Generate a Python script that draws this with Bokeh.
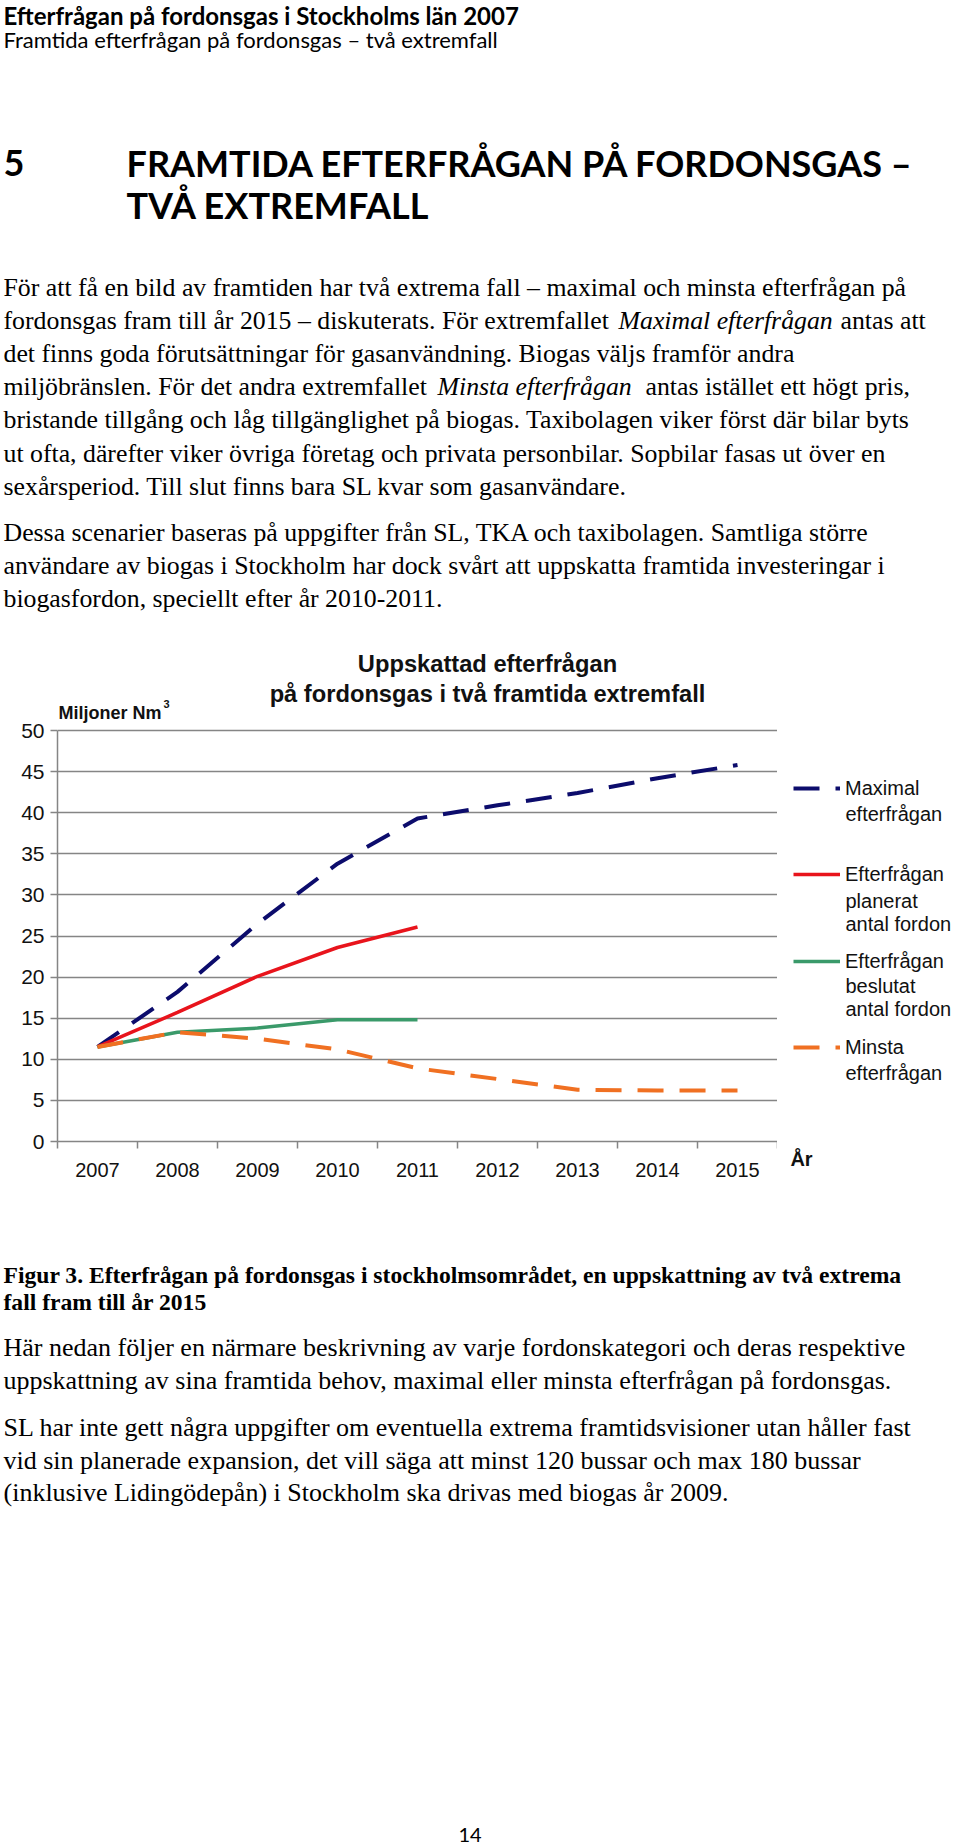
from bokeh.plotting import figure
from bokeh.layouts import column, row
from bokeh.models import Legend, LegendItem, FixedTicker, Range1d
from bokeh.core.properties import value
from bokeh.embed import file_html
from bokeh.resources import INLINE

# ---------------- data ----------------
years = [2007, 2008, 2009, 2010, 2011, 2012, 2013, 2014, 2015]
years_short = [2007, 2008, 2009, 2010, 2011]
maximal = [11.5, 18.2, 26.5, 33.8, 39.3, 40.9, 42.4, 44.2, 45.8]
planerat = [11.5, 15.7, 20.1, 23.6, 26.1]
beslutat = [11.5, 13.3, 13.8, 14.8, 14.8]
minsta = [11.5, 13.3, 12.5, 11.2, 8.9, 7.6, 6.3, 6.2, 6.2]
y_ticks = [0, 5, 10, 15, 20, 25, 30, 35, 40, 45, 50]

series_first_lines = ["Maximal", "Efterfrågan", "Efterfrågan", "Minsta"]
series_more_lines = [["efterfrågan"], ["planerat", "antal fordon"],
                     ["beslutat", "antal fordon"], ["efterfrågan"]]

chart_title = ["Uppskattad efterfrågan", "på fordonsgas i två framtida extremfall"]
y_unit = "Miljoner Nm"
y_unit_sup = "3"
x_unit = "År"

header = ["Efterfrågan på fordonsgas i Stockholms län 2007",
          "Framtida efterfrågan på fordonsgas – två extremfall"]
heading_num = "5"
heading = ["FRAMTIDA EFTERFRÅGAN PÅ FORDONSGAS –", "TVÅ EXTREMFALL"]

para1 = [
    [("För att få en bild av framtiden har två extrema fall – maximal och minsta efterfrågan på", "normal")],
    [("fordonsgas fram till år 2015 – diskuterats. För extremfallet", "normal"),
     ("Maximal efterfrågan", "italic"), ("antas att", "normal")],
    [("det finns goda förutsättningar för gasanvändning. Biogas väljs framför andra", "normal")],
    [("miljöbränslen. För det andra extremfallet", "normal"),
     ("Minsta efterfrågan", "italic"), ("antas istället ett högt pris,", "normal")],
    [("bristande tillgång och låg tillgänglighet på biogas. Taxibolagen viker först där bilar byts", "normal")],
    [("ut ofta, därefter viker övriga företag och privata personbilar. Sopbilar fasas ut över en", "normal")],
    [("sexårsperiod. Till slut finns bara SL kvar som gasanvändare.", "normal")],
]
para2 = ["Dessa scenarier baseras på uppgifter från SL, TKA och taxibolagen. Samtliga större",
         "användare av biogas i Stockholm har dock svårt att uppskatta framtida investeringar i",
         "biogasfordon, speciellt efter år 2010-2011."]
caption = ["Figur 3. Efterfrågan på fordonsgas i stockholmsområdet, en uppskattning av två extrema",
           "fall fram till år 2015"]
para3 = ["Här nedan följer en närmare beskrivning av varje fordonskategori och deras respektive",
         "uppskattning av sina framtida behov, maximal eller minsta efterfrågan på fordonsgas."]
para4 = ["SL har inte gett några uppgifter om eventuella extrema framtidsvisioner utan håller fast",
         "vid sin planerade expansion, det vill säga att minst 120 bussar och max 180 bussar",
         "(inklusive Lidingödepån) i Stockholm ska drivas med biogas år 2009."]
page_no = "14"

# ---------------- styles / layout ----------------
NAVY = "#0c0c6c"
RED = "#e8141c"
GREEN = "#3a9a6a"
ORANGE = "#f07022"
GRID = "#858585"
INK = "#111111"
SANS = "Liberation Sans"
SERIF = "Liberation Serif"
GILL = "Lato"
DASH = "26 16"
NAN = float("nan")

PAGE_W, PAGE_H = 960, 1848
TOP_H = 640          # page band above the chart
CHART_BOTTOM = 1200  # page y where the chart band ends
FL, FR, FB, FT = 57, 777, 1141, 730   # chart frame (page px): left, right, y of 0, y of 50


def text_fig(x0, y0, w, h):
    f = figure(width=w, height=h, x_range=Range1d(x0, x0 + w), y_range=Range1d(y0 + h, y0),
               min_border=0, x_axis_location=None, y_axis_location=None,
               output_backend="svg", toolbar_location=None)
    f.grid.grid_line_color = None
    f.outline_line_color = None
    return f


def put(f, X, Y, text, size, font=SERIF, style="normal", align="left", color="black", rn=None):
    kw = dict(x_range_name=rn, y_range_name=rn) if rn else {}
    f.text(x=[X], y=[Y], text=[text], text_font=value(font), text_font_size=value(f"{size}px"),
           text_font_style=value(style), text_align=value(align),
           text_baseline=value("middle"), text_color=color, **kw)


# ---------- top text band ----------
top = text_fig(0, 0, PAGE_W, TOP_H)
put(top, 3, 15, header[0], 24, font=GILL, style="bold")
put(top, 3, 39, header[1], 22, font=GILL)
put(top, 3, 162, heading_num, 36, font=GILL, style="bold")
put(top, 126, 162, heading[0], 36, font=GILL, style="bold")
put(top, 126, 204, heading[1], 36, font=GILL, style="bold")

seg_x = {1: [3, 618, 840], 3: [3, 437, 645]}
for i, line in enumerate(para1):
    yy = 287 + 33.1 * i
    for (t, st), xx in zip(line, seg_x.get(i, [3])):
        put(top, xx, yy, t, 25.8, style=st)
for i, t in enumerate(para2):
    put(top, 3, 532 + 33 * i, t, 25.8)

# ---------- chart ----------
chart_h = CHART_BOTTOM - TOP_H
y_top = 50 * (FB - TOP_H) / (FB - FT)
p = figure(width=FR, height=chart_h, x_range=Range1d(2006.5, 2015.5), y_range=Range1d(0, y_top),
           min_border_left=FL, min_border_right=0, min_border_top=0,
           min_border_bottom=CHART_BOTTOM - FB, output_backend="svg", toolbar_location=None)
p.outline_line_color = None
p.extra_x_ranges = {"px": Range1d(FL, FR)}
p.extra_y_ranges = {"px": Range1d(FB, TOP_H)}

p.yaxis.ticker = FixedTicker(ticks=y_ticks)
p.yaxis.bounds = (0, 50)
p.yaxis.major_tick_out = 7
p.yaxis.major_tick_in = 0
p.yaxis.minor_tick_line_color = None
p.yaxis.axis_line_color = GRID
p.yaxis.axis_line_width = 1.5
p.yaxis.major_tick_line_color = GRID
p.yaxis.major_tick_line_width = 1.5
p.yaxis.major_label_text_font = SANS
p.yaxis.major_label_text_font_size = "21px"
p.yaxis.major_label_text_color = INK
p.yaxis.major_label_standoff = 6

p.xaxis.ticker = FixedTicker(ticks=years, minor_ticks=[y - 0.5 for y in years] + [years[-1] + 0.5])
p.xaxis.major_label_overrides = {y: str(y) for y in years}
p.xaxis.major_tick_line_color = None
p.xaxis.major_tick_out = 7
p.xaxis.major_tick_in = 0
p.xaxis.minor_tick_out = 7
p.xaxis.minor_tick_in = 0
p.xaxis.minor_tick_line_color = GRID
p.xaxis.minor_tick_line_width = 1.5
p.xaxis.axis_line_color = GRID
p.xaxis.axis_line_width = 1.5
p.xaxis.major_label_text_font = SANS
p.xaxis.major_label_text_font_size = "20px"
p.xaxis.major_label_text_color = INK
p.xaxis.major_label_standoff = 14

p.xgrid.grid_line_color = None
p.ygrid.ticker = FixedTicker(ticks=y_ticks)
p.ygrid.grid_line_color = GRID
p.ygrid.grid_line_width = 1.5

p.line(years, maximal, line_color=NAVY, line_width=4, line_dash=DASH)
p.line(years_short, planerat, line_color=RED, line_width=3.5)
p.line(years_short, beslutat, line_color=GREEN, line_width=3.5)
p.line(years, minsta, line_color=ORANGE, line_width=4, line_dash=DASH)

put(p, 487, 663, chart_title[0], 23.7, font=SANS, style="bold", align="center", color=INK, rn="px")
put(p, 487, 693, chart_title[1], 23.7, font=SANS, style="bold", align="center", color=INK, rn="px")
put(p, 58, 712, y_unit, 18, font=SANS, style="bold", color=INK, rn="px")
put(p, 163, 703, y_unit_sup, 11, font=SANS, style="bold", color=INK, rn="px")

# ---------- legend band (right of the chart; frame aligned with the chart's) ----------
leg = figure(width=PAGE_W - FR, height=chart_h, x_range=Range1d(FR, PAGE_W), y_range=Range1d(FB, TOP_H),
             min_border_left=0, min_border_right=0, min_border_top=0,
             min_border_bottom=CHART_BOTTOM - FB, y_axis_location=None,
             output_backend="svg", toolbar_location=None)
leg.grid.grid_line_color = None
leg.outline_line_color = None
# the "År" unit sits under the axis, as the only label of an otherwise hidden axis
leg.xaxis.ticker = FixedTicker(ticks=[801])
leg.xaxis.major_label_overrides = {801: x_unit}
leg.xaxis.axis_line_color = None
leg.xaxis.major_tick_line_color = None
leg.xaxis.minor_tick_line_color = None
leg.xaxis.major_tick_out = 0
leg.xaxis.major_tick_in = 0
leg.xaxis.major_label_standoff = 6
leg.xaxis.major_label_text_font = SANS
leg.xaxis.major_label_text_font_style = "bold"
leg.xaxis.major_label_text_font_size = "20px"
leg.xaxis.major_label_text_color = INK

proxies = [
    leg.line(x=[NAN, NAN], y=[NAN, NAN], line_color=NAVY, line_width=4, line_dash=DASH),
    leg.line(x=[NAN, NAN], y=[NAN, NAN], line_color=RED, line_width=3.5),
    leg.line(x=[NAN, NAN], y=[NAN, NAN], line_color=GREEN, line_width=3.5),
    leg.line(x=[NAN, NAN], y=[NAN, NAN], line_color=ORANGE, line_width=4, line_dash=DASH),
]
legend_y = [788, 874, 961, 1047]
more_y = [[813], [900, 923], [985, 1008], [1072]]
for r, first, ly in zip(proxies, series_first_lines, legend_y):
    lg = Legend(items=[LegendItem(label=first, renderers=[r])],
                location=(793 - FR, FB - (ly + 12)),
                glyph_width=47, glyph_height=24, label_height=24, label_standoff=5,
                padding=0, margin=0, spacing=0,
                border_line_color=None, background_fill_alpha=0,
                label_text_font=SANS, label_text_font_size="20px", label_text_color=INK)
    leg.add_layout(lg)
for lines, ys in zip(series_more_lines, more_y):
    for t, yy in zip(lines, ys):
        put(leg, 845, yy, t, 20, font=SANS, color=INK)

# ---------- bottom text band ----------
bot = text_fig(0, CHART_BOTTOM, PAGE_W, PAGE_H - CHART_BOTTOM)
for i, t in enumerate(caption):
    put(bot, 3, 1274 + 27 * i, t, 23.6, style="bold")
for i, t in enumerate(para3):
    put(bot, 3, 1347 + 33 * i, t, 26)
for i, t in enumerate(para4):
    put(bot, 3, 1427 + 32.5 * i, t, 26)
put(bot, 458, 1834, page_no, 20, font=GILL)

page = column(top, row(p, leg), bot)
open("out.html", "w").write(file_html(page, INLINE))
